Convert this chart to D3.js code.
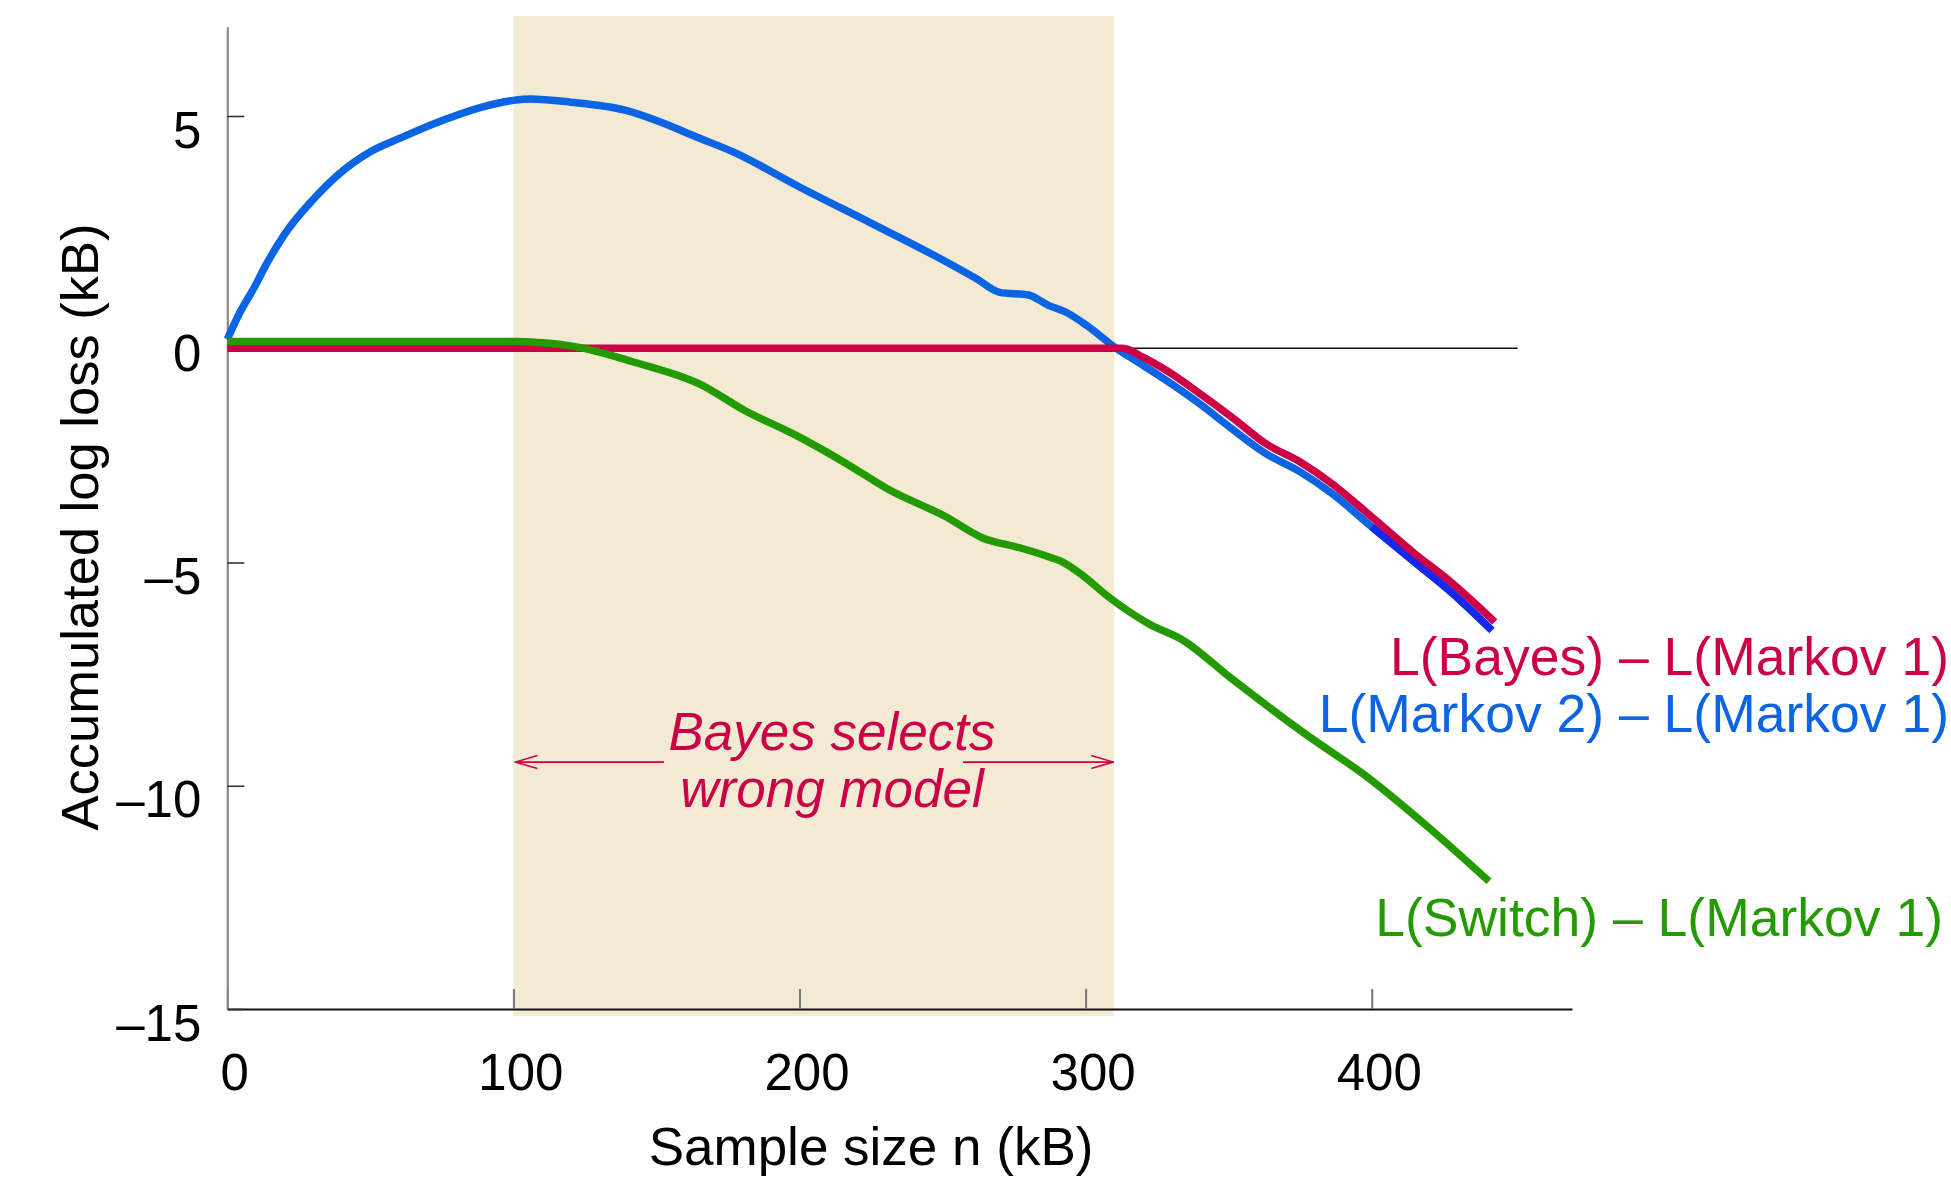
<!DOCTYPE html>
<html>
<head>
<meta charset="utf-8">
<script src="https://cdn.jsdelivr.net/npm/d3@7"></script>
<style>
  body { margin: 0; background: #fff; }
  svg text { font-family: "Liberation Sans", Arial, Helvetica, sans-serif; }
</style>
</head>
<body>
<svg id="chart" width="1951" height="1185"></svg>
<script>
// sample size n (kB) and accumulated log loss difference (kB)
const markov2X = [0, 4, 9.5, 14, 20, 30, 39, 50, 61, 76, 89, 100, 106, 120, 139, 152, 164, 177, 200, 225, 247, 262, 270, 280, 287, 293, 301, 310, 319, 327, 340, 351, 363, 375, 386, 400, 415, 427, 442]
const markov2Y = [0, 0.55, 1.17, 1.72, 2.35, 3.13, 3.7, 4.2, 4.52, 4.92, 5.2, 5.35, 5.38, 5.31, 5.13, 4.85, 4.53, 4.19, 3.41, 2.6, 1.88, 1.35, 1.05, 0.99, 0.76, 0.61, 0.28, -0.17, -0.54, -0.87, -1.45, -2.0, -2.56, -2.97, -3.45, -4.2, -4.99, -5.62, -6.52]

const bayesX = [0, 313, 320, 328, 340, 351, 363, 375, 386, 400, 415, 427, 443]
const bayesY = [-0.2, -0.2, -0.4, -0.69, -1.22, -1.74, -2.34, -2.75, -3.23, -3.98, -4.8, -5.4, -6.33]

const switchX = [0, 100, 110, 122, 142, 165, 181, 199, 216, 231, 251, 264, 277, 287, 292, 299, 308, 322, 334, 351, 377, 399, 420, 441]
const switchY = [-0.05, -0.05, -0.08, -0.17, -0.51, -1.0, -1.6, -2.16, -2.77, -3.36, -3.97, -4.45, -4.67, -4.87, -4.99, -5.29, -5.77, -6.37, -6.74, -7.6, -8.85, -9.83, -10.94, -12.14]

const xTicks = [0, 100, 200, 300, 400]
const yTicks = [5, 0, -5, -10, -15]

const wrongRange = [100, 310]      // region where Bayes picks the wrong model
const zeroLevel = -0.2             // thin reference line
const zeroLineEnd = 451

const seriesLabels = ["L(Bayes) \u2013 L(Markov 1)", "L(Markov 2) \u2013 L(Markov 1)", "L(Switch) \u2013 L(Markov 1)"]
const annotation = ["Bayes selects", "wrong model"]

const RED = "#cc0047", BLUE = "#0a64e3", DEEPBLUE = "#1428f0", GREEN = "#239a00", SHADE = "#f3ead4"

const svg = d3.select("#chart")

const x = d3.scaleLinear().domain([0, 470]).range([227.3, 1572])
const y = d3.scaleLinear().domain([-15, 7]).range([1009, 26.7])

// shaded band
svg.append("rect")
  .attr("x", x(wrongRange[0])).attr("width", x(wrongRange[1]) - x(wrongRange[0]))
  .attr("y", 16).attr("height", 1016 - 16)
  .attr("fill", SHADE)

// zero reference line
svg.append("line")
  .attr("x1", x(0)).attr("x2", x(zeroLineEnd))
  .attr("y1", y(zeroLevel)).attr("y2", y(zeroLevel))
  .attr("stroke", "#111").attr("stroke-width", 1.6)

// axes
const fmt = d => d < 0 ? "\u2013" + Math.abs(d) : String(d)

const gx = svg.append("g").attr("transform", `translate(0,${y(-15)})`)
  .call(d3.axisBottom(x).tickValues(xTicks).tickSizeInner(-20).tickSizeOuter(0).tickFormat(fmt))
gx.select(".domain").attr("stroke", "#111").attr("stroke-width", 2.2)
gx.selectAll(".tick line").attr("stroke", "#777").attr("stroke-width", 2)
gx.selectAll(".tick text")
  .attr("y", 81).attr("dy", null).attr("dx", 7)
  .attr("font-size", 51).attr("fill", "#000")
  .style("font-family", "'Liberation Sans', Arial, sans-serif")

const gy = svg.append("g").attr("transform", `translate(${x(0)},0)`)
  .call(d3.axisLeft(y).tickValues(yTicks).tickSizeInner(-17).tickSizeOuter(0).tickFormat(fmt))
gy.select(".domain").attr("stroke", "#888").attr("stroke-width", 2.2)
gy.selectAll(".tick line").attr("stroke", "#333").attr("stroke-width", 1.6)
gy.selectAll(".tick text")
  .attr("x", -26).attr("dy", null).attr("y", 31)
  .attr("text-anchor", "end")
  .attr("font-size", 51).attr("fill", "#000")
  .style("font-family", "'Liberation Sans', Arial, sans-serif")

// axis titles
svg.append("text")
  .attr("x", x(225)).attr("y", 1165)
  .attr("text-anchor", "middle").attr("font-size", 53)
  .text("Sample size n (kB)")

svg.append("text")
  .attr("transform", "translate(98,527) rotate(-90)")
  .attr("text-anchor", "middle").attr("font-size", 52.5)
  .text("Accumulated log loss (kB)")

// series lines
const line = d3.line().x(d => x(d[0])).y(d => y(d[1])).curve(d3.curveMonotoneX)
const pts = (xs, ys) => xs.map((v, i) => [v, ys[i]])

const markov2 = pts(markov2X, markov2Y)
const lines = svg.append("g").attr("fill", "none").attr("stroke-width", 7.5).attr("stroke-linejoin", "round")

lines.append("path").attr("d", line(markov2)).attr("stroke", BLUE)
lines.append("path").attr("d", line(markov2.filter(d => d[0] >= 400))).attr("stroke", DEEPBLUE)
lines.append("path").attr("d", line(pts(bayesX, bayesY))).attr("stroke", RED)
lines.append("path").attr("d", line(pts(switchX, switchY))).attr("stroke", GREEN)

// series labels
const labelRows = [
  { text: seriesLabels[0], color: RED, x: 1949, y: 675 },
  { text: seriesLabels[1], color: BLUE, x: 1949, y: 732 },
  { text: seriesLabels[2], color: GREEN, x: 1943, y: 936 }
]
svg.append("g").selectAll("text")
  .data(labelRows).enter().append("text")
  .attr("x", d => d.x).attr("y", d => d.y)
  .attr("text-anchor", "end").attr("font-size", 53.5)
  .attr("fill", d => d.color)
  .text(d => d.text)

// annotation with arrows to both band edges
svg.append("defs").append("marker")
  .attr("id", "chev").attr("markerUnits", "userSpaceOnUse")
  .attr("markerWidth", 24).attr("markerHeight", 16)
  .attr("viewBox", "0 0 24 16").attr("refX", 23).attr("refY", 8).attr("orient", "auto")
  .append("path").attr("d", "M1,1.5 L23,8 L1,14.5")
  .attr("fill", "none").attr("stroke", RED).attr("stroke-width", 1.6)

const arrowY = y(-9.47)
svg.append("line")
  .attr("x1", 664).attr("x2", x(wrongRange[0]) + 2)
  .attr("y1", arrowY).attr("y2", arrowY)
  .attr("stroke", RED).attr("stroke-width", 1.6).attr("marker-end", "url(#chev)")
svg.append("line")
  .attr("x1", 963).attr("x2", x(wrongRange[1]) - 1)
  .attr("y1", arrowY).attr("y2", arrowY)
  .attr("stroke", RED).attr("stroke-width", 1.6).attr("marker-end", "url(#chev)")

svg.append("g").selectAll("text")
  .data(annotation).enter().append("text")
  .attr("x", 832).attr("y", (d, i) => 750 + i * 57)
  .attr("text-anchor", "middle").attr("font-size", 53)
  .attr("font-style", "italic").attr("fill", RED)
  .text(d => d)
</script>
</body>
</html>
